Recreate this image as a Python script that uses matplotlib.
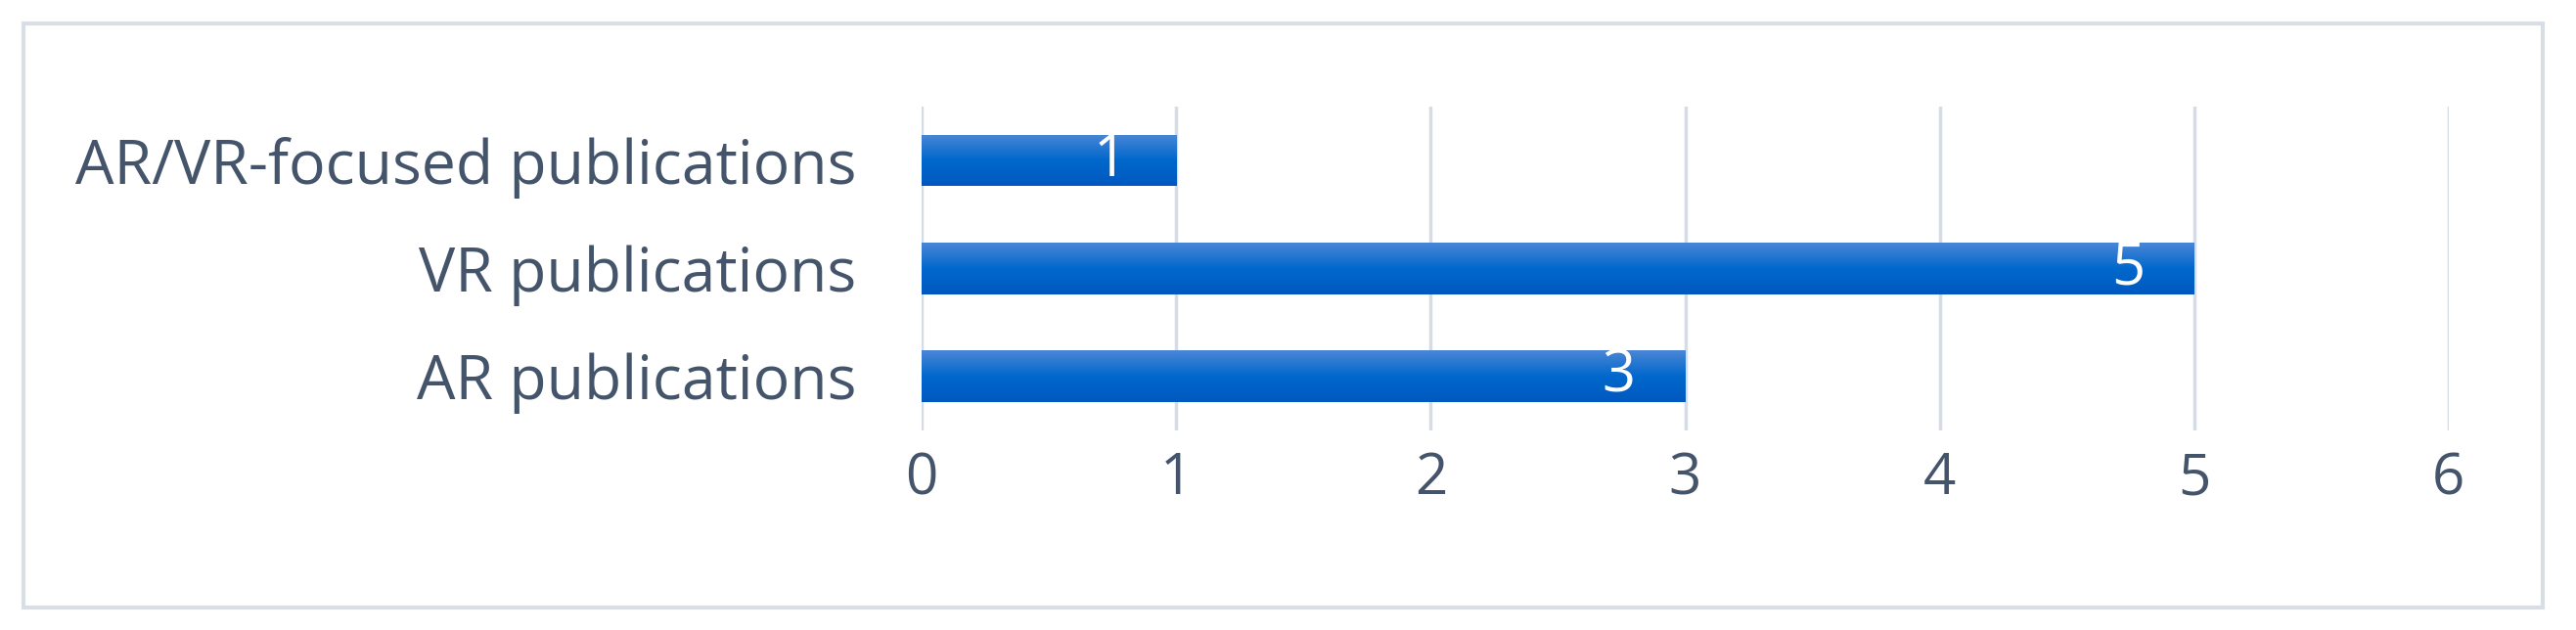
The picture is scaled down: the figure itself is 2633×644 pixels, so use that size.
import numpy as np
import matplotlib.pyplot as plt
from matplotlib.patches import Rectangle
from matplotlib.colors import LinearSegmentedColormap

categories = ['AR publications', 'VR publications', 'AR/VR-focused publications']
counts = [3, 5, 1]
xticks = [0, 1, 2, 3, 4, 5, 6]

plt.rcParams['font.family'] = ['Open Sans', 'DejaVu Sans']
text_color = '#44546A'

fig = plt.figure(figsize=(26.33, 6.44), dpi=100)
ax = fig.add_axes([0.3578, 0.317, 0.5928, 0.514])

y = np.arange(len(categories))
bars = ax.barh(y, counts, height=0.48, color='#0A64C8', zorder=2)

# vertical gradient on each bar, lighter at the top like the office style
cmap = LinearSegmentedColormap.from_list('barblue', ['#0058C0', '#0068CC', '#4A86D6'])
grad = np.linspace(0, 1, 100).reshape(-1, 1)
for b in bars:
    x0, y0 = b.get_x(), b.get_y()
    w, h = b.get_width(), b.get_height()
    im = ax.imshow(grad, cmap=cmap, aspect='auto', origin='upper',
                   extent=[x0, x0 + w, y0 + h, y0], zorder=3)
    im.set_clip_path(b)

for yi, v in zip(y, counts):
    ax.text(v - 0.26, yi, str(v), color='white', fontsize=43,
            ha='center', va='center', zorder=4)

ax.set_xlim(0, 6)
ax.set_ylim(-0.5, 2.5)
ax.set_xticks(xticks)
ax.set_xticklabels([str(t) for t in xticks])
ax.set_yticks(y)
ax.set_yticklabels(categories)
ax.tick_params(axis='x', length=0, pad=15, labelsize=42, labelcolor=text_color)
ax.tick_params(axis='y', length=0, pad=48, labelsize=45, labelcolor=text_color)
ax.grid(axis='x', color='#D6DCE5', linewidth=2.5, zorder=0)
ax.set_axisbelow(True)
for s in ax.spines.values():
    s.set_visible(False)

# light frame around the whole chart
fig.patches.append(Rectangle((0.0091, 0.035), 0.978, 0.928, transform=fig.transFigure,
                             fill=False, edgecolor='#D9DEE4', linewidth=3))

fig.savefig('out.png', dpi=100)
